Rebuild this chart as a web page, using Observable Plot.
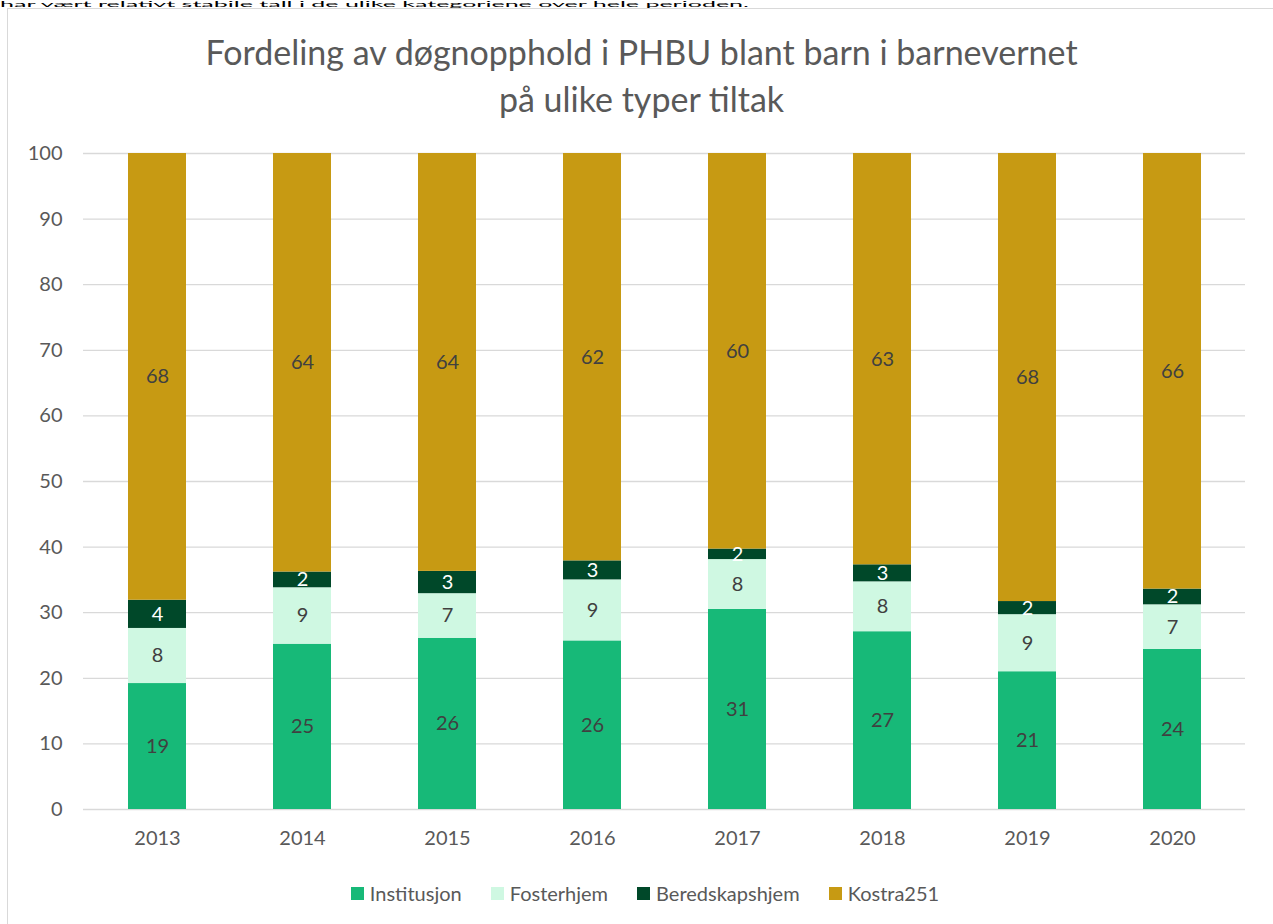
<!DOCTYPE html>
<html><head><meta charset="utf-8">
<script src="https://cdn.jsdelivr.net/npm/d3@7"></script>
<script src="https://cdn.jsdelivr.net/npm/@observablehq/plot@0.6"></script>
<style>
html,body{margin:0;padding:0;background:#fff}
body{font-family:Lato,"Noto Sans",sans-serif;overflow:hidden;width:1273px;height:924px;position:relative}
#pre{position:absolute;left:0;top:1px;font-size:10px;line-height:10px;height:10px;color:#000;white-space:nowrap;transform:scale(2.5,0.7);transform-origin:0 0}
#frame{position:absolute;left:7px;top:8px;width:1290px;height:940px;border:1px solid #d9d9d9;box-sizing:border-box}
#title{position:absolute;left:0;width:1283px;top:28px;text-align:center;font-size:34px;color:#595959;line-height:47px}
#chart{position:absolute;left:0;top:0}
#legend{position:absolute;top:881px;left:0;width:1290px;display:flex;justify-content:center;gap:29px;font-size:20px;color:#595959}
#legend .it{display:flex;align-items:center;gap:6px}
#legend .sw{width:13px;height:13px;display:inline-block}
</style>
</head><body>
<div id="pre">har vært relativt stabile tall i de ulike kategoriene over hele perioden.</div>
<div id="frame"></div>
<div id="title">Fordeling av døgnopphold i PHBU blant barn i barnevernet<br>på ulike typer tiltak</div>
<div id="chart"></div>
<div id="legend"></div>
<script>
const years = ["2013","2014","2015","2016","2017","2018","2019","2020"];
const categories = ["Institusjon","Fosterhjem","Beredskapshjem","Kostra251"];
const institusjon    = [19.2, 25.2, 26.1, 25.7, 30.5, 27.1, 21.0, 24.4];
const fosterhjem     = [8.4, 8.6, 6.8, 9.3, 7.6, 7.6, 8.7, 6.8];
const beredskapshjem = [4.3, 2.4, 3.4, 2.9, 1.6, 2.6, 2.0, 2.4];
const kostra251      = [68.1, 63.8, 63.7, 62.1, 60.3, 62.7, 68.3, 66.4];
const colors = ["#17b978", "#cff8e2", "#004829", "#c79a13"];
const yTicks = [0, 10, 20, 30, 40, 50, 60, 70, 80, 90, 100];

const series = [institusjon, fosterhjem, beredskapshjem, kostra251];
const data = [];
years.forEach((y, i) => {
  categories.forEach((c, j) => data.push({year: y, cat: c, value: series[j][i]}));
});

const font = 'Lato, "Noto Sans", sans-serif';
const chart = Plot.plot({
  width: 1273,
  height: 924,
  marginTop: 153,
  marginBottom: 115,
  marginLeft: 83,
  marginRight: 28,
  style: {fontFamily: font, fontSize: "20px", color: "#595959", background: "transparent"},
  x: {domain: years, paddingInner: 0.6, paddingOuter: 0.3, label: null},
  y: {domain: [0, 100], label: null},
  color: {domain: categories, range: colors},
  marks: [
    Plot.gridY(yTicks, {stroke: "#d9d9d9", strokeOpacity: 1, strokeWidth: 1.3}),
    Plot.barY(data, {x: "year", y: "value", fill: "cat", z: "cat"}),
    Plot.text(data, Plot.stackY({x: "year", y: "value", z: "cat",
      text: d => d.cat === "Beredskapshjem" ? null : String(Math.round(d.value)),
      fill: "#404040", fontSize: 20})),
    Plot.text(data, Plot.stackY({x: "year", y: "value", z: "cat",
      text: d => d.cat === "Beredskapshjem" ? String(Math.round(d.value)) : null,
      fill: "#ffffff", fontSize: 20})),
    Plot.axisY(yTicks, {tickSize: 0, tickPadding: 21, label: null, fill: "#595959", fontSize: 20}),
    Plot.axisX({tickSize: 0, tickPadding: 21, label: null, fill: "#595959", fontSize: 20})
  ]
});
document.getElementById("chart").appendChild(chart);

const legend = document.getElementById("legend");
categories.forEach((c, j) => {
  const it = document.createElement("div");
  it.className = "it";
  const sw = document.createElement("span");
  sw.className = "sw";
  sw.style.background = colors[j];
  const t = document.createElement("span");
  t.textContent = c;
  it.appendChild(sw); it.appendChild(t);
  legend.appendChild(it);
});
</script>
</body></html>
